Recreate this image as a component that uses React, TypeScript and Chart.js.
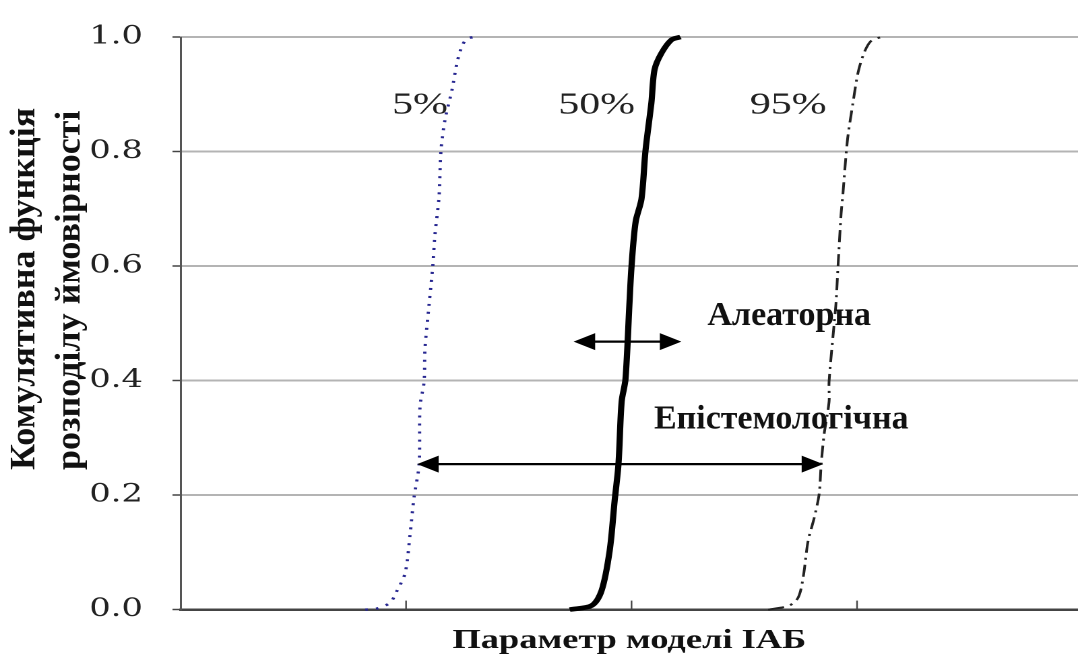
import React, { useEffect, useRef } from 'react';
import { Chart, registerables } from 'chart.js';

Chart.register(...registerables);

// ---- data ----
const yTickValues = [0, 0.2, 0.4, 0.6, 0.8, 1.0];
const xTickValues = [1, 2, 3];

const p5X = [0.819, 0.872, 0.929, 0.96, 0.996, 1.018, 1.035, 1.058, 1.062, 1.08, 1.084, 1.102, 1.119, 1.128, 1.146, 1.155, 1.173, 1.204, 1.226, 1.248, 1.27, 1.301];
const p5Y = [0, 0.002, 0.012, 0.033, 0.064, 0.132, 0.195, 0.254, 0.355, 0.398, 0.456, 0.532, 0.602, 0.654, 0.72, 0.802, 0.856, 0.908, 0.955, 0.984, 0.997, 1.0];

const p50X = [1.726, 1.823, 1.867, 1.903, 1.925, 1.942, 1.956, 1.973, 1.991, 2.0, 2.018, 2.044, 2.062, 2.088, 2.102, 2.133, 2.177, 2.217];
const p50Y = [0, 0.007, 0.033, 0.103, 0.19, 0.254, 0.363, 0.402, 0.537, 0.6, 0.677, 0.717, 0.802, 0.885, 0.943, 0.972, 0.995, 1.0];

const p95X = [2.606, 2.699, 2.739, 2.761, 2.783, 2.81, 2.832, 2.841, 2.854, 2.876, 2.876, 2.898, 2.907, 2.916, 2.929, 2.938, 2.951, 2.96, 2.982, 3.004, 3.031, 3.062, 3.106];
const p95Y = [0, 0.007, 0.021, 0.056, 0.12, 0.16, 0.202, 0.254, 0.306, 0.363, 0.398, 0.497, 0.537, 0.602, 0.689, 0.729, 0.793, 0.828, 0.885, 0.937, 0.972, 0.993, 1.0];

const seriesLabels = ['5%', '50%', '95%'];
const seriesLabelX = [1.062, 1.845, 2.695];
const seriesLabelY = [0.866, 0.866, 0.866];

const arrowNames = ['Алеаторна', 'Епістемологічна'];
const arrowFrom = [1.743, 1.049];
const arrowTo = [2.221, 2.85];
const arrowY = [0.468, 0.254];
const arrowTextX = [2.699, 2.664];
const arrowTextY = [0.497, 0.3165];

const xTitle = 'Параметр моделі ІАБ';
const yTitleLines = ['Комулятивна функція', 'розподілу ймовірності'];

// ---- layout ----
const W = 1078;
const H = 662;
const LOGICAL_W = 800;
const STRETCH = W / LOGICAL_W;
const SERIF = '"Liberation Serif", "Times New Roman", serif';

const zip = (xs: number[], ys: number[]) => xs.map((x, i) => ({ x, y: ys[i] }));

const annotations = {
  id: 'annotations',
  afterDatasetsDraw(chart: any) {
    const { ctx, chartArea } = chart;
    const xs = chart.scales.x;
    const ys = chart.scales.y;
    ctx.save();
    // inward ticks on x axis
    ctx.strokeStyle = '#444';
    ctx.lineWidth = 1.2;
    xTickValues.forEach((v) => {
      const px = xs.getPixelForValue(v);
      ctx.beginPath();
      ctx.moveTo(px, chartArea.bottom);
      ctx.lineTo(px, chartArea.bottom - 9);
      ctx.stroke();
    });
    // percentile labels
    ctx.fillStyle = '#222';
    ctx.font = `31px ${SERIF}`;
    ctx.textAlign = 'center';
    ctx.textBaseline = 'alphabetic';
    seriesLabels.forEach((t, i) => {
      ctx.fillText(t, xs.getPixelForValue(seriesLabelX[i]), ys.getPixelForValue(seriesLabelY[i]));
    });
    // arrows
    const hl = 16;
    const hw = 8.5;
    arrowNames.forEach((name, i) => {
      const x1 = xs.getPixelForValue(arrowFrom[i]);
      const x2 = xs.getPixelForValue(arrowTo[i]);
      const py = ys.getPixelForValue(arrowY[i]);
      ctx.strokeStyle = '#000';
      ctx.lineWidth = 2.2;
      ctx.beginPath();
      ctx.moveTo(x1 + hl - 1, py);
      ctx.lineTo(x2 - hl + 1, py);
      ctx.stroke();
      ctx.fillStyle = '#000';
      ctx.beginPath();
      ctx.moveTo(x1, py);
      ctx.lineTo(x1 + hl, py - hw);
      ctx.lineTo(x1 + hl, py + hw);
      ctx.closePath();
      ctx.fill();
      ctx.beginPath();
      ctx.moveTo(x2, py);
      ctx.lineTo(x2 - hl, py - hw);
      ctx.lineTo(x2 - hl, py + hw);
      ctx.closePath();
      ctx.fill();
      ctx.save();
      ctx.translate(xs.getPixelForValue(arrowTextX[i]), ys.getPixelForValue(arrowTextY[i]));
      ctx.scale(1 / STRETCH, 1);
      ctx.font = `bold 34px ${SERIF}`;
      ctx.fillStyle = '#111';
      ctx.textAlign = 'center';
      ctx.textBaseline = 'alphabetic';
      ctx.fillText(name, 0, 0);
      ctx.restore();
    });
    ctx.restore();
  },
  afterDraw(chart: any) {
    const { ctx } = chart;
    const lineX = [25 / STRETCH, 70 / STRETCH];
    const bottom = 470;
    ctx.save();
    ctx.font = `bold 36px ${SERIF}`;
    ctx.fillStyle = '#111';
    ctx.textAlign = 'left';
    ctx.textBaseline = 'middle';
    yTitleLines.forEach((line, i) => {
      ctx.save();
      ctx.translate(lineX[i], bottom);
      ctx.scale(1 / STRETCH, 1);
      ctx.rotate(-Math.PI / 2);
      ctx.fillText(line, 0, 0);
      ctx.restore();
    });
    ctx.restore();
  },
};

export default function App() {
  const canvasRef = useRef<HTMLCanvasElement | null>(null);

  useEffect(() => {
    document.body.style.margin = '0';
    const canvas = canvasRef.current;
    if (!canvas) return;
    const chart = new Chart(canvas, {
      type: 'scatter',
      data: {
        datasets: [
          {
            label: '5%',
            data: zip(p5X, p5Y),
            showLine: true,
            borderColor: '#262690',
            borderWidth: 2.4,
            borderDash: [2, 6],
            pointRadius: 0,
            tension: 0.3,
            fill: false,
            clip: false,
          },
          {
            label: '50%',
            data: zip(p50X, p50Y),
            showLine: true,
            borderColor: '#000',
            borderWidth: 4.6,
            pointRadius: 0,
            tension: 0.3,
            fill: false,
            clip: false,
          },
          {
            label: '95%',
            data: zip(p95X, p95Y),
            showLine: true,
            borderColor: '#222',
            borderWidth: 2,
            borderDash: [12, 5, 2, 5],
            pointRadius: 0,
            tension: 0.3,
            fill: false,
            clip: false,
          },
        ] as any,
      },
      options: {
        animation: false,
        responsive: false,
        devicePixelRatio: 2,
        layout: { padding: { top: 34, right: 0, bottom: 0, left: 0 } },
        plugins: {
          legend: { display: false },
          tooltip: { enabled: false },
        },
        scales: {
          x: {
            type: 'linear',
            min: 0,
            max: 3.98,
            grid: { display: false, drawTicks: false },
            border: { display: true, color: '#444', width: 2.5 },
            ticks: { display: false },
            title: {
              display: true,
              text: xTitle,
              color: '#111',
              font: { family: SERIF, size: 27, weight: 'bold' },
              padding: { top: 15, bottom: 5 },
            },
          },
          y: {
            type: 'linear',
            min: 0,
            max: 1,
            afterBuildTicks: (s: any) => {
              s.ticks = yTickValues.map((v) => ({ value: v }));
            },
            afterFit: (s: any) => {
              s.width = 134;
            },
            grid: {
              color: (c: any) => (c.tick && c.tick.value === 0 ? 'rgba(0,0,0,0)' : '#b4b4b4'),
              lineWidth: 2,
              drawTicks: true,
              tickLength: 6,
              tickColor: '#444',
              tickWidth: 1.5,
            },
            border: { display: true, color: '#555', width: 1.5 },
            ticks: {
              color: '#222',
              padding: 22,
              font: { family: '"DejaVu Serif", serif', size: 25 },
              callback: (v: any) => Number(v).toFixed(1),
            },
          },
        },
      } as any,
      plugins: [annotations],
    });
    return () => chart.destroy();
  }, []);

  return (
    <div style={{ width: W, height: H, overflow: 'hidden', background: '#fff' }}>
      <canvas
        ref={canvasRef}
        width={LOGICAL_W}
        height={H}
        style={{ width: `${W}px`, height: `${H}px`, display: 'block' }}
      />
    </div>
  );
}
